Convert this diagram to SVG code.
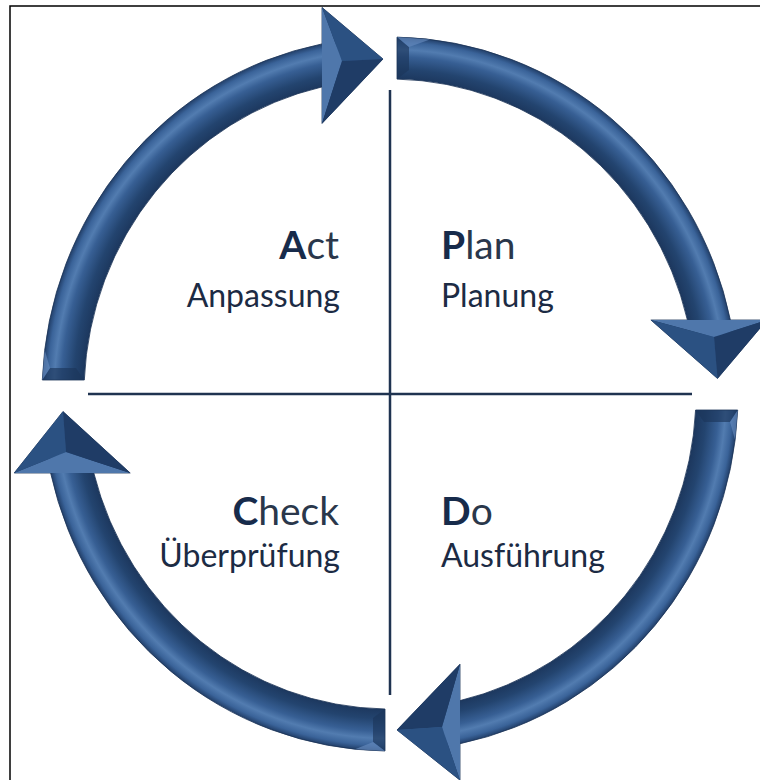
<svg xmlns="http://www.w3.org/2000/svg" width="760" height="780" viewBox="0 0 760 780">
<defs>
<radialGradient id="band" gradientUnits="userSpaceOnUse" cx="390" cy="394" r="348" gradientTransform="translate(390 394) scale(1 1.026) translate(-390 -394)">
<stop offset="0.87" stop-color="#1a3358"/>
<stop offset="0.91" stop-color="#23446f"/>
<stop offset="0.945" stop-color="#375f94"/>
<stop offset="0.965" stop-color="#527cb0"/>
<stop offset="0.985" stop-color="#3a6399"/>
<stop offset="1" stop-color="#213e68"/>
</radialGradient>
</defs>
<style>
.band{fill:url(#band);stroke:#1a3255;stroke-width:0.8;stroke-linejoin:round}
.fl{fill:#4f77ab}
.fm{fill:#2b5182}
.fd{fill:#1f3c66}
.cap{fill:#1b355b;opacity:0.65}
.hl{fill:#6288bb;opacity:0.7}
.axis{stroke:#1f3350;stroke-width:2.5;fill:none}
.frame{stroke:#000;stroke-width:1.5;fill:none}
.t1{font-family:Lato,"Open Sans","Liberation Sans",sans-serif;font-size:39px;fill:#2a374b}
.b{font-weight:bold;fill:#172b4b}
.t2{font-family:Lato,"Open Sans","Liberation Sans",sans-serif;font-size:32px;fill:#1c2b44}
</style>
<rect x="0" y="0" width="760" height="780" fill="#fff"/>
<path class="frame" d="M10,780 V6 H760"/>
<g id="axes">
<line class="axis" x1="390" y1="90" x2="390" y2="695"/>
<line class="axis" x1="88" y1="394" x2="692" y2="394"/>
</g>
<g id="connectors">
<g id="arrow-plan">
<path class="band" d="M397,37.1 A348,357 0 0 1 730.4,320 L766.9,320 L717.5,378.5 L650.9,320 L687.4,320 A306,315 0 0 0 397,79.1 Z"/>
<polygon class="fl" points="650.9,320 766.9,320 714,337"/>
<polygon class="fm" points="650.9,320 714,337 717.5,378.5"/>
<polygon class="fd" points="766.9,320 714,337 717.5,378.5"/>
<polygon class="cap" points="397,37.1 397,79.1 409,70 409,47"/>
<polygon class="hl" points="397,37.1 409,47 430,39.4"/>
</g>
<g id="arrow-do">
<path class="band" d="M737.7,410 A348,357 0 0 1 460,743.7 L460,780.2 L397,730 L460,664.2 L460,700.6 A306,315 0 0 0 695.6,410 Z"/>
<polygon class="fl" points="460,664.2 460,780.2 442,727"/>
<polygon class="fd" points="460,664.2 442,727 397,730"/>
<polygon class="fm" points="460,780.2 442,727 397,730"/>
<polygon class="cap" points="737.7,410 695.6,410 704,422 730,422"/>
<polygon class="hl" points="737.7,410 730,422 735.1,440"/>
</g>
<g id="arrow-check">
<path class="band" d="M385,751 A348,357 0 0 1 50.6,473 L14.2,473 L63,411.5 L130.2,473 L93.8,473 A306,315 0 0 0 385,709 Z"/>
<polygon class="fl" points="14.2,473 130.2,473 66,452"/>
<polygon class="fm" points="14.2,473 66,452 63,411.5"/>
<polygon class="fd" points="130.2,473 66,452 63,411.5"/>
<polygon class="cap" points="385,751 385,709 373,718 373,742"/>
<polygon class="hl" points="385,751 373,742 355,749.2"/>
</g>
<g id="arrow-act">
<path class="band" d="M42.3,380 A348,357 0 0 1 322,43.9 L322,7.4 L383,59 L322,123.4 L322,86.9 A306,315 0 0 0 84.3,380 Z"/>
<polygon class="fl" points="322,7.4 322,123.4 342,61"/>
<polygon class="fm" points="322,7.4 342,61 383,59"/>
<polygon class="fd" points="322,123.4 342,61 383,59"/>
<polygon class="cap" points="42.3,380 84.3,380 76,368 50,368"/>
<polygon class="hl" points="42.3,380 50,368 44.7,350"/>
</g>
</g>
<g id="node-act">
<text class="t1" x="339" y="259" text-anchor="end"><tspan class="b">A</tspan>ct</text>
<text class="t2" x="340" y="307" text-anchor="end">Anpassung</text>
</g>
<g id="node-plan">
<text class="t1" x="441" y="259"><tspan class="b">P</tspan>lan</text>
<text class="t2" x="441" y="307">Planung</text>
</g>
<g id="node-check">
<text class="t1" x="339" y="525" text-anchor="end"><tspan class="b">C</tspan>heck</text>
<text class="t2" x="340" y="567" text-anchor="end">Überprüfung</text>
</g>
<g id="node-do">
<text class="t1" x="441" y="525"><tspan class="b">D</tspan>o</text>
<text class="t2" x="441" y="567">Ausführung</text>
</g>
</svg>
